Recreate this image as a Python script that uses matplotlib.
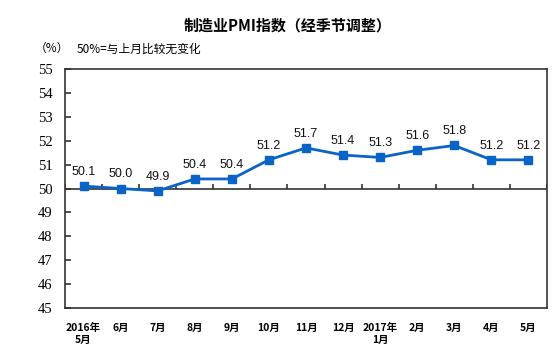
import matplotlib.pyplot as plt
import numpy as np

months = ['2016年\n5月', '6月', '7月', '8月', '9月', '10月', '11月', '12月',
          '2017年\n1月', '2月', '3月', '4月', '5月']
pmi = [50.1, 50.0, 49.9, 50.4, 50.4, 51.2, 51.7, 51.4, 51.3, 51.6, 51.8, 51.2, 51.2]

cjk = ['Noto Sans CJK SC', 'DejaVu Sans']
blue = '#0a64c8'
dark = '#333333'

fig = plt.figure(figsize=(5.54, 3.64), dpi=100)
ax = fig.add_axes([0.1173, 0.1538, 0.8701, 0.6566])

x = np.arange(len(pmi))
ax.plot(x, pmi, color=blue, lw=2, marker='s', ms=5.5, zorder=3)
for xi, v in zip(x, pmi):
    ax.annotate(f'{v:.1f}', (xi, v), xytext=(0, 6), textcoords='offset points',
                ha='center', va='bottom', fontsize=9, family='Liberation Sans',
                color='#111111')

# 50 line with category ticks pointing up
ax.axhline(50, color=dark, lw=1.2, zorder=2)
ax.vlines(np.arange(len(pmi) + 1) - 0.5, 50, 50.2, color=dark, lw=1.2)

ax.set_xlim(-0.5, len(pmi) - 0.5)
ax.set_ylim(45, 55)
ax.set_yticks(range(45, 56))
ax.set_yticklabels([str(v) for v in range(45, 56)], family='Liberation Serif', fontsize=10.5)
ax.tick_params(axis='y', direction='in', length=4, width=1.2, color=dark, pad=9)
ax.set_xticks(x)
ax.set_xticklabels(months, family=cjk, fontsize=7.5, fontweight='bold', linespacing=1.2)
ax.tick_params(axis='x', length=0, pad=11)
for s in ax.spines.values():
    s.set_color(dark)
    s.set_linewidth(1.2)

fig.text(0.52, 0.93, '制造业PMI指数（经季节调整）', ha='center', va='center',
         family=cjk, fontsize=10.8, fontweight='bold')
fig.text(0.062, 0.868, '（%）', ha='left', va='center', family=cjk, fontsize=8.5)
fig.text(0.139, 0.865, '50%=与上月比较无变化', ha='left', va='center', family=cjk, fontsize=8.5)

fig.savefig('out.png', dpi=100)
